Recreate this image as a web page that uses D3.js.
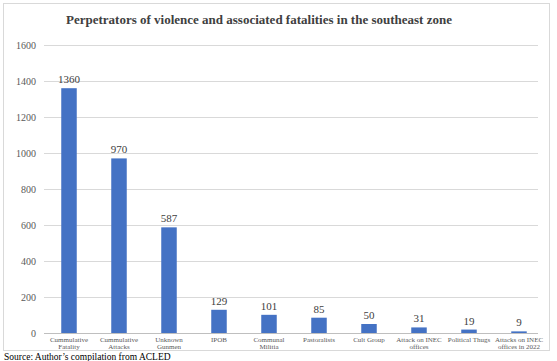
<!DOCTYPE html>
<html>
<head>
<meta charset="utf-8">
<script src="https://cdn.jsdelivr.net/npm/d3@7"></script>
<style>
  body { margin: 0; background: #fff; }
</style>
</head>
<body>
<div class="chart"></div>
<script>
// data
const categories = [
  'Cummulative Fatality', 'Cummulative Attacks', 'Unknown Gunmen', 'IPOB',
  'Communal Militia', 'Pastoralists', 'Cult Group', 'Attack on INEC offices',
  'Political Thugs', 'Attacks on INEC offices in 2022'
];
// how each category label breaks into lines
const categoryLines = [
  ['Cummulative', 'Fatality'], ['Cummulative', 'Attacks'], ['Unknown', 'Gunmen'], ['IPOB'],
  ['Communal', 'Militia'], ['Pastoralists'], ['Cult Group'], ['Attack on INEC', 'offices'],
  ['Political Thugs'], ['Attacks on INEC', 'offices in 2022']
];
const values = [1360, 970, 587, 129, 101, 85, 50, 31, 19, 9];
const yTicks = [0, 200, 400, 600, 800, 1000, 1200, 1400, 1600];

const width = 557, height = 361;
const margin = { top: 45, right: 13, bottom: 28, left: 44 };
const serif = '"Liberation Serif", "Times New Roman", "DejaVu Serif", serif';

const svg = d3.select('.chart').append('svg')
  .attr('width', width)
  .attr('height', height)
  .style('font-family', serif);

// outer frame
svg.append('rect')
  .attr('x', 3.5).attr('y', 3.5)
  .attr('width', 546).attr('height', 347)
  .attr('fill', 'none')
  .attr('stroke', '#d9d9d9');

const x = d3.scaleBand()
  .domain(categories)
  .range([margin.left, width - margin.right])
  .paddingInner(0.69)
  .paddingOuter(0.345);

const y = d3.scaleLinear()
  .domain([0, 1600])
  .range([height - margin.bottom, margin.top]);

// title
svg.append('text')
  .attr('x', 259).attr('y', 24)
  .attr('text-anchor', 'middle')
  .style('font-family', serif)
  .style('font-size', '13px')
  .style('font-weight', 'bold')
  .attr('fill', '#404040')
  .text('Perpetrators of violence and associated fatalities in the southeast zone');

// gridlines + y tick labels
const yAxis = svg.append('g')
  .attr('transform', 'translate(' + margin.left + ',0)')
  .call(d3.axisLeft(y).tickValues(yTicks).tickFormat(d3.format('d'))
    .tickSize(-(width - margin.left - margin.right - 6)).tickPadding(8));
yAxis.attr('font-family', null);
yAxis.select('.domain').remove();
yAxis.selectAll('.tick line').attr('stroke', '#d9d9d9');
yAxis.selectAll('.tick text').attr('fill', '#595959')
  .style('font-family', serif).style('font-size', '10px');

// bars
svg.selectAll('.bar').data(values).enter().append('rect')
  .attr('class', 'bar')
  .attr('x', function(d, i) { return x(categories[i]); })
  .attr('y', function(d) { return y(d); })
  .attr('width', x.bandwidth())
  .attr('height', function(d) { return y(0) - y(d); })
  .attr('fill', '#4472c4');

// x axis line
svg.append('line')
  .attr('x1', margin.left).attr('x2', width - margin.right - 6)
  .attr('y1', y(0) + 0.5).attr('y2', y(0) + 0.5)
  .attr('stroke', '#bfbfbf');

// value labels
svg.selectAll('.value').data(values).enter().append('text')
  .attr('class', 'value')
  .attr('x', function(d, i) { return x(categories[i]) + x.bandwidth() / 2; })
  .attr('y', function(d) { return y(d) - 5; })
  .attr('text-anchor', 'middle')
  .style('font-family', serif)
  .style('font-size', '11px')
  .attr('fill', '#404040')
  .text(function(d) { return d; });

// category labels
const cat = svg.selectAll('.cat').data(categories).enter().append('text')
  .attr('class', 'cat')
  .attr('text-anchor', 'middle')
  .style('font-family', serif)
  .style('font-size', '7px')
  .attr('fill', '#595959')
  .attr('transform', function(d) {
    return 'translate(' + (x(d) + x.bandwidth() / 2) + ',' + (y(0) + 8.5) + ')';
  });
cat.selectAll('tspan').data(function(d, i) { return categoryLines[i]; }).enter().append('tspan')
  .attr('x', 0)
  .attr('dy', function(d, i) { return i === 0 ? 0 : 7; })
  .text(function(d) { return d; });

// source caption under the frame
svg.append('text')
  .attr('x', 4).attr('y', 360)
  .style('font-family', serif)
  .style('font-size', '9.5px')
  .attr('fill', '#000')
  .text('Source: Author\u2019s compilation from ACLED');
</script>
</body>
</html>
